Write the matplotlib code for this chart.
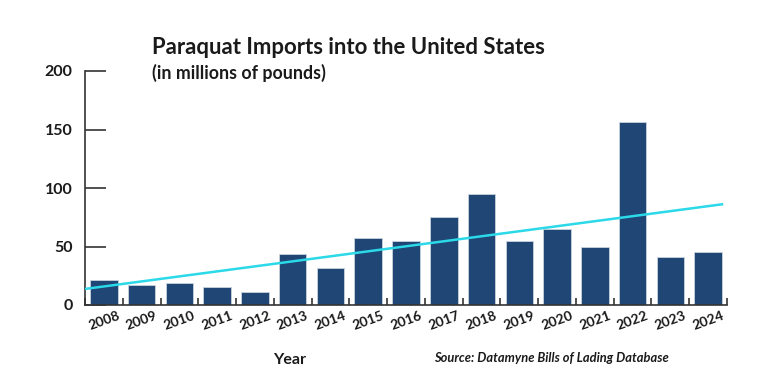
import numpy as np
import matplotlib
matplotlib.use("Agg")
import matplotlib.pyplot as plt

years = ["2008", "2009", "2010", "2011", "2012", "2013", "2014", "2015", "2016",
         "2017", "2018", "2019", "2020", "2021", "2022", "2023", "2024"]
imports = [21, 17, 19, 15, 11, 44, 32, 57, 55, 75, 95, 55, 65, 50, 156, 41, 45]
y_ticks = [0, 50, 100, 150, 200]

title = "Paraquat Imports into the United States"
subtitle = "(in millions of pounds)"
xlabel = "Year"
source = "Source: Datamyne Bills of Lading Database"

bar_color = "#1F4675"
line_color = "#2BD9E8"
text_color = "#1a1a1a"
font = "Lato"

fig = plt.figure(figsize=(7.68, 3.81), dpi=100)
W, H = 768, 381
ax = fig.add_axes([85 / W, 1 - 305 / H, (727 - 85) / W, (305 - 71) / H])

x = np.arange(len(years))
ax.bar(x, imports, width=0.73, color=bar_color, edgecolor="#c9d3de",
       linewidth=0.6, zorder=2)

# trend line (least squares)
slope, intercept = np.polyfit(x, imports, 1)
tx = np.array([-0.5, 16.4])
ax.plot(tx, slope * tx + intercept, color=line_color, lw=1.8, zorder=3, solid_capstyle="butt")

ax.set_xlim(-0.5, 16.5)
ax.set_ylim(0, 200)
ax.set_yticks(y_ticks)
ax.set_yticklabels([str(v) for v in y_ticks], fontsize=11.5, fontweight="bold",
                   color=text_color, family=font)
ax.tick_params(axis="y", direction="in", length=15, width=1.2, color="#333333", pad=9)

ax.set_xticks(x)
ax.set_xticklabels(years, rotation=20, fontsize=10, fontweight="bold",
                   color=text_color, family=font, ha="center")
ax.tick_params(axis="x", length=0, pad=3)
# minor ticks at category boundaries
ax.set_xticks(np.arange(-0.5, 16.6, 1), minor=True)
ax.tick_params(axis="x", which="minor", direction="in", length=5, width=1.2, color="#333333")

for s in ["top", "right"]:
    ax.spines[s].set_visible(False)
for s in ["left", "bottom"]:
    ax.spines[s].set_color("#333333")
    ax.spines[s].set_linewidth(1.2)

fig.text(152 / W, 1 - 48 / H, title, fontsize=15.9, fontweight="bold", color=text_color,
         family=font, ha="left", va="center")
fig.text(152 / W, 1 - 73 / H, subtitle, fontsize=12.8, fontweight="bold", color=text_color,
         family=font, ha="left", va="center")
fig.text(290 / W, 1 - 360 / H, xlabel, fontsize=11.5, fontweight="bold", color=text_color,
         family=font, ha="center", va="center")
fig.text(551 / W, 1 - 358 / H, source, fontsize=9.3, fontweight="bold", style="italic",
         color=text_color, family=font, ha="center", va="center")

fig.savefig("out.png", dpi=100, facecolor="white")
